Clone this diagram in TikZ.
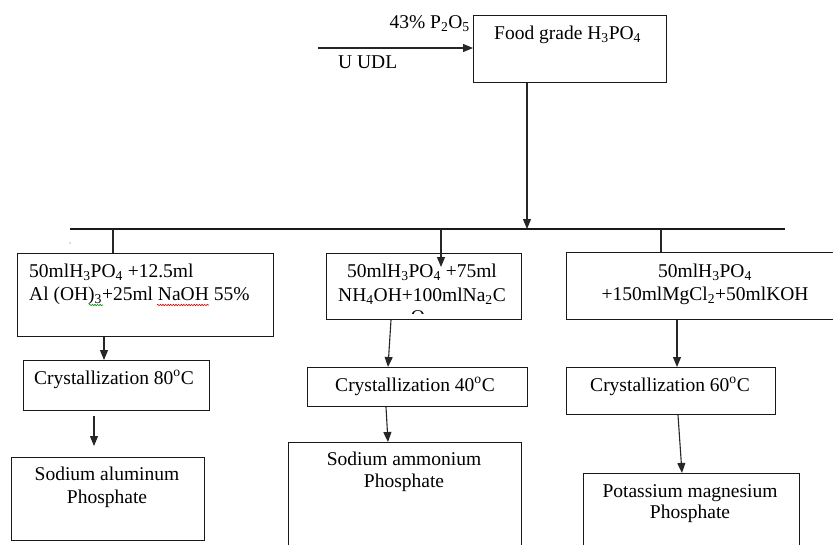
\documentclass[tikz,border=0pt]{standalone}
\usepackage{fontspec}
\setmainfont{Liberation Serif}
\usetikzlibrary{arrows.meta,decorations.pathmorphing}
\begin{document}
\begin{tikzpicture}[x=1pt,y=-1pt,
  box/.style={draw=black!90,line width=1.1pt,inner sep=0,anchor=north west},
  lbl/.style={inner sep=0,font=\fontsize{19.5}{23}\selectfont,text=black},
  conn/.style={draw=black!85,line width=1.1pt},
  arr/.style={conn,-{Triangle[length=10pt,width=8pt]}},
  squig/.style={line width=0.6pt,decorate,decoration={snake,amplitude=0.7pt,segment length=2.6pt}}]
\useasboundingbox (0,0) rectangle (833,544);
\clip (0,0) rectangle (833,544);
% boxes
\node[box,minimum width=193pt,minimum height=67pt] (top) at (473,15) {};
\node[box,minimum width=256pt,minimum height=83pt] (b1) at (17,253) {};
\node[box,minimum width=195pt,minimum height=66pt] (b2) at (326,253) {};
\node[box,minimum width=290pt,minimum height=67pt] (b3) at (566,252) {};
\node[box,minimum width=186pt,minimum height=50pt] (c1) at (23,360) {};
\node[box,minimum width=220pt,minimum height=39pt] (c2) at (307,367) {};
\node[box,minimum width=209pt,minimum height=47pt] (c3) at (566,367) {};
\node[box,minimum width=193pt,minimum height=83pt] (f1) at (11,457) {};
\node[box,minimum width=233pt,minimum height=120pt] (f2) at (288,442) {};
\node[box,minimum width=216pt,minimum height=100pt] (f3) at (583,473) {};
% coordinates
\coordinate (in) at (318,48);
\coordinate (busL) at (70,229);
\coordinate (busR) at (785,229);
\coordinate (busT) at (527,229);
\coordinate (s1) at (113,229);
\coordinate (s2) at (441,229);
\coordinate (s2e) at (441,267);
\coordinate (s3) at (661,229);
\coordinate (x1) at (104,0);
\coordinate (fa) at (94,416);
\coordinate (fb) at (94,446);
% connectors
\draw[arr] (in) -- (in -| top.west);
\draw[line width=2.2pt,black!90] (busL) -- (busR);
\draw[arr] (busT |- top.south) -- (busT);
\draw[conn] (s1) -- (s1 |- b1.north);
\draw[arr] (s2) -- (s2e);
\draw[conn] (s3) -- (s3 |- b3.north);
\draw[arr] (x1 |- b1.south) -- (x1 |- c1.north);
\draw[arr] (fa) -- (fb);
\draw[arr] ([xshift=65pt]b2.south west) -- ([xshift=81pt]c2.north west);
\draw[arr] ([xshift=79pt]c2.south west) -- ([xshift=100pt]f2.north west);
\draw[arr] ([xshift=111pt]b3.south west) -- ([xshift=111pt]c3.north west);
\draw[arr] ([xshift=112pt]c3.south west) -- ([xshift=99pt]f3.north west);
% labels
\node[lbl,anchor=base east] (p2o5) at (470,28) {43\% P\textsubscript{2}O\textsubscript{5}};
\node[lbl,anchor=base west] (udl) at (338,68) {U UDL};
\node[lbl,anchor=base west] (tt) at (494,39) {Food grade H\textsubscript{3}PO\textsubscript{4}};
\node[lbl,anchor=base west] (b1a) at (29,277) {50mlH\textsubscript{3}PO\textsubscript{4} +12.5ml};
\node[lbl,anchor=base west] (b1b) at (29,300) {Al (OH)\textsubscript{3}+25ml NaOH 55\%};
\node[lbl,anchor=base] (b2a) at (422,277) {50mlH\textsubscript{3}PO\textsubscript{4} +75ml};
\node[lbl,anchor=base] (b2b) at (422,301) {NH\textsubscript{4}OH+100mlNa\textsubscript{2}C};
\begin{scope}
\clip (326,253) rectangle (521,313);
\node[lbl,anchor=base] (b2c) at (418,323) {O};
\end{scope}
\node[lbl,anchor=base] (b3a) at (705,277) {50mlH\textsubscript{3}PO\textsubscript{4}};
\node[lbl,anchor=base] (b3b) at (705,300) {+150mlMgCl\textsubscript{2}+50mlKOH};
\node[lbl,anchor=base] (c1t) at (114,384) {Crystallization 80\textsuperscript{o}C};
\node[lbl,anchor=base] (c2t) at (415,391) {Crystallization 40\textsuperscript{o}C};
\node[lbl,anchor=base] (c3t) at (670,391) {Crystallization 60\textsuperscript{o}C};
\node[lbl,anchor=base] (f1a) at (107,480) {Sodium aluminum};
\node[lbl,anchor=base] (f1b) at (107,503) {Phosphate};
\node[lbl,anchor=base] (f2a) at (404,465) {Sodium ammonium};
\node[lbl,anchor=base] (f2b) at (404,487) {Phosphate};
\node[lbl,anchor=base] (f3a) at (690,497) {Potassium magnesium};
\node[lbl,anchor=base] (f3b) at (690,518) {Phosphate};
% spell-check marks and stray dot
\draw[squig,red!85!black] (157,305) -- (209,305);
\draw[squig,green!55!black] (89,305) -- (103,305);
\fill[black!60] (70,243) circle (0.7);
\end{tikzpicture}
\end{document}
